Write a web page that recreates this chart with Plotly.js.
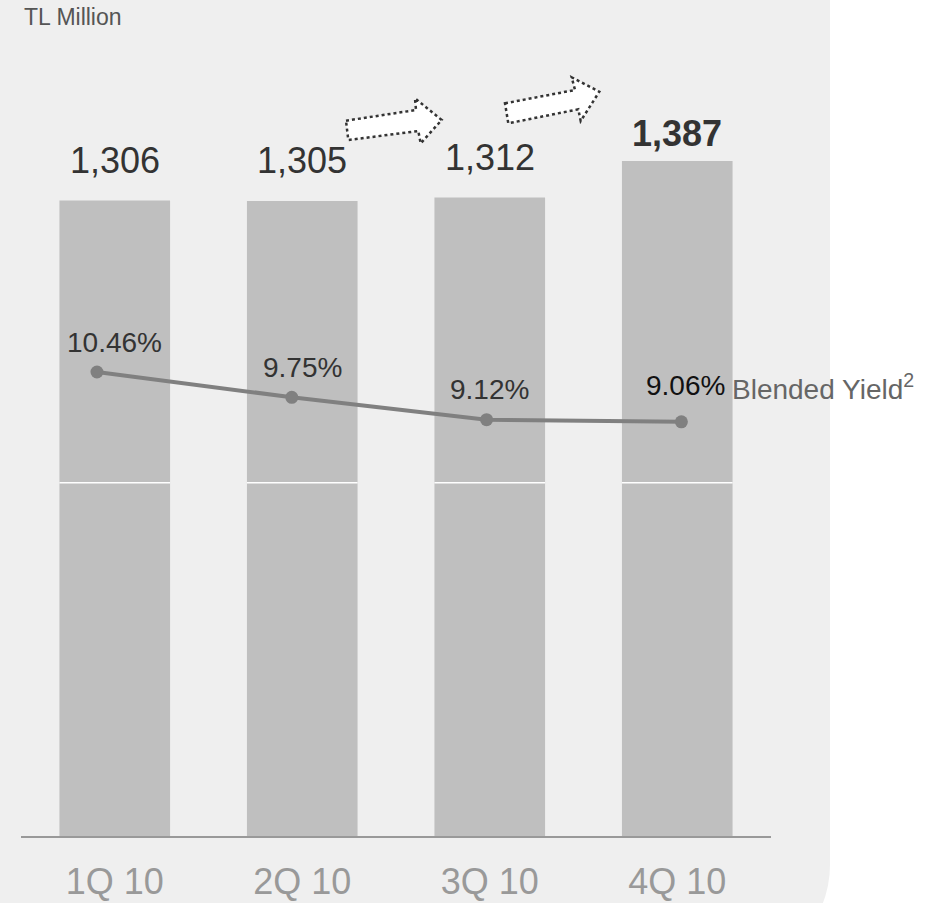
<!DOCTYPE html>
<html>
<head>
<meta charset="utf-8">
<script src="https://cdn.plot.ly/plotly-3.0.1.min.js"></script>
<style>
  html, body { margin:0; padding:0; background:#ffffff; overflow:hidden; width:947px; height:903px; }
  #panel { position:absolute; left:0; top:0; width:830px; height:972px; background:#efefef; border-bottom-right-radius:107px; }
  #chart { position:absolute; left:0; top:0; width:947px; height:903px; }
</style>
</head>
<body>
<div id="panel"></div>
<div id="chart"></div>
<script>
// ---- data ----
const categories = ['1Q 10', '2Q 10', '3Q 10', '4Q 10'];
const loanValues = [1306, 1305, 1312, 1387];
const loanLabels = ['1,306', '1,305', '1,312', '1,387'];
const yieldValues = [10.46, 9.75, 9.12, 9.06];
const yieldLabels = ['10.46%', '9.75%', '9.12%', '9.06%'];
const splitLevel = [726];
const unitLabel = 'TL Million';
const seriesLabel = 'Blended Yield<sup>2</sup>';

// ---- layout geometry ----
const W = 947, H = 903;
const M = {l: 21, r: 176, t: 106, b: 67};
const pw = W - M.l - M.r, ph = H - M.t - M.b;
const px = x => (x - M.l) / pw;
const py = y => (H - M.b - y) / ph;
const FONT = 'Liberation Sans, Arial, sans-serif';
const barGap = 0.41;
const last = categories.length - 1;

function arrowPath(pts) {
  return 'M ' + pts.map(p => px(p[0]).toFixed(5) + ',' + py(p[1]).toFixed(5)).join(' L ') + ' Z';
}
const arrow1 = [[346,120.7],[416,110],[415,98.3],[441.7,120],[420.7,143.3],[418.3,131],[348.3,140]];
const arrow2 = [[505,103.3],[575,90],[571.7,77.3],[599.3,91.7],[580.7,121],[578.3,109.3],[508.3,123.3]];

const traces = [
  {
    type: 'bar', x: categories, y: loanValues,
    marker: {color: '#bfbfbf'}, hoverinfo: 'skip', showlegend: false
  },
  {
    type: 'scatter', mode: 'lines+markers', x: categories, y: yieldValues,
    xaxis: 'x2', yaxis: 'y2',
    line: {color: '#808080', width: 4}, marker: {color: '#808080', size: 13},
    hoverinfo: 'skip', showlegend: false
  }
];

const annotations = [];
categories.forEach((c, i) => {
  const hl = i === last;
  annotations.push({
    xref: 'x', yref: 'y', x: c, y: loanValues[i], yanchor: 'middle', yshift: hl ? 27 : 40,
    text: hl ? '<b>' + loanLabels[i] + '</b>' : loanLabels[i], showarrow: false,
    font: {family: FONT, size: 36, color: '#333333'}
  });
  annotations.push({
    xref: 'x', yref: 'y2', x: c, y: yieldValues[i], yanchor: 'middle', yshift: hl ? 36 : 30, xshift: hl ? 8 : 0,
    text: yieldLabels[i], showarrow: false,
    font: {family: FONT, size: 28, color: hl ? '#111111' : '#333333'}
  });
});
annotations.push({
  xref: 'paper', yref: 'paper', x: px(22), y: py(17), xanchor: 'left', yanchor: 'middle',
  text: unitLabel, showarrow: false, font: {family: FONT, size: 23, color: '#555555'}
});
annotations.push({
  xref: 'paper', yref: 'paper', x: px(730), y: py(387), xanchor: 'left', yanchor: 'middle',
  text: seriesLabel, showarrow: false, font: {family: FONT, size: 28, color: '#666666'}
});

const barHalf = (1 - barGap) / 2;
const shapes = [];
categories.forEach((c, i) => {
  shapes.push({
    type: 'line', xref: 'x', yref: 'y', x0: i - barHalf, x1: i + barHalf, y0: splitLevel[0], y1: splitLevel[0],
    line: {color: '#ffffff', width: 1.5}, layer: 'above'
  });
});
[arrow1, arrow2].forEach(a => shapes.push({
  type: 'path', xref: 'paper', yref: 'paper', path: arrowPath(a),
  fillcolor: '#ffffff', line: {color: '#333333', width: 2.5, dash: 'dot'}, layer: 'above'
}));

const layout = {
  width: W, height: H, margin: M,
  paper_bgcolor: 'rgba(0,0,0,0)', plot_bgcolor: 'rgba(0,0,0,0)',
  bargap: barGap, showlegend: false,
  font: {family: FONT},
  xaxis: {
    type: 'category', categoryarray: categories, range: [-0.5, 3.5],
    showline: true, linecolor: '#999999', linewidth: 2, showgrid: false, zeroline: false,
    ticks: '', ticklabelstandoff: 13,
    tickfont: {family: FONT, size: 36, color: '#999999'}, fixedrange: true
  },
  xaxis2: {
    type: 'category', categoryarray: categories, overlaying: 'x', anchor: 'y2', range: [-0.39, 3.46],
    visible: false, showgrid: false, zeroline: false
  },
  yaxis: {range: [0, 1500], visible: false, showgrid: false, zeroline: false},
  yaxis2: {overlaying: 'y', anchor: 'x2', range: [-2.57, 17.93], visible: false, showgrid: false, zeroline: false},
  annotations: annotations,
  shapes: shapes
};

Plotly.newPlot('chart', traces, layout, {displayModeBar: false, staticPlot: true});
</script>
</body>
</html>
